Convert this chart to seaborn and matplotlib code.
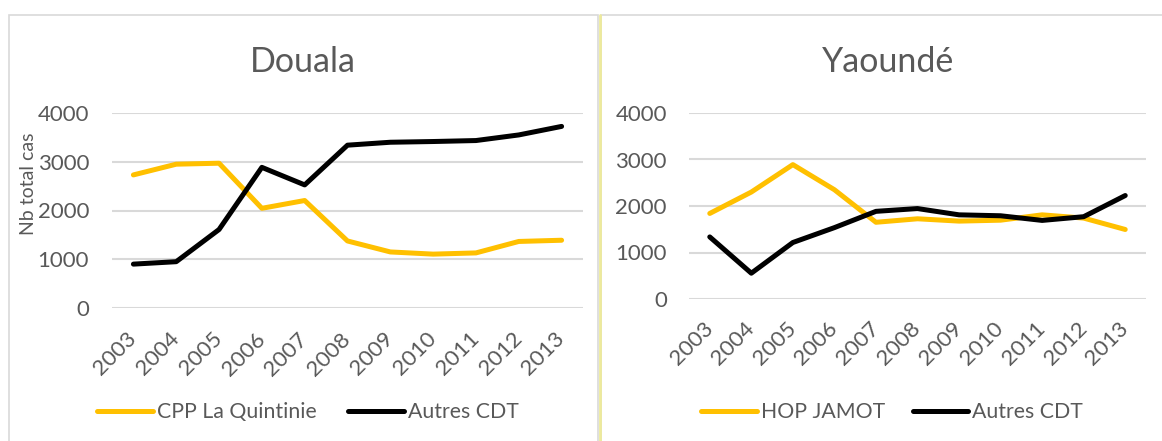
import numpy as np
import pandas as pd
import seaborn as sns
import matplotlib.pyplot as plt
from matplotlib.patches import Rectangle
from matplotlib.lines import Line2D

years = [2003, 2004, 2005, 2006, 2007, 2008, 2009, 2010, 2011, 2012, 2013]
year_labels = [str(y) for y in years]

# Douala
douala_cpp = [2730, 2950, 2970, 2045, 2205, 1375, 1150, 1105, 1130, 1365, 1390]
douala_autres = [900, 950, 1610, 2885, 2525, 3340, 3400, 3415, 3435, 3550, 3725]
# Yaounde
yaounde_jamot = [1840, 2300, 2890, 2350, 1650, 1725, 1675, 1695, 1810, 1740, 1495]
yaounde_autres = [1335, 555, 1215, 1535, 1885, 1945, 1810, 1790, 1690, 1770, 2225]

yellow = '#FFC000'
black = '#000000'
grey_text = '#595959'
grid_col = '#D9D9D9'

sns.set_style("white")
plt.rcParams['font.family'] = ['Lato', 'DejaVu Sans']

W, H = 1162, 441
fig = plt.figure(figsize=(W / 100, H / 100), dpi=100)

# panel borders (like the Excel chart areas)
fig.patches.append(Rectangle((9 / W, -0.1), 589 / W, 1 - 15 / H + 0.1,
                             transform=fig.transFigure, fill=False,
                             edgecolor=grid_col, lw=1.2))
fig.patches.append(Rectangle((601 / W, -0.1), 600 / W, 1 - 15 / H + 0.1,
                             transform=fig.transFigure, fill=False,
                             edgecolor=grid_col, lw=1.2))
fig.lines.append(Line2D([600 / W, 600 / W], [0, 1 - 15 / H],
                        transform=fig.transFigure, color='#EDEA9C', lw=2))


def panel(rect, title, title_x, name1, vals1, vals2, ypad, xpad, leg_x, colsp,
          ylabel=None):
    ax = fig.add_axes(rect)
    df = pd.DataFrame({
        'year': year_labels * 2,
        'val': vals1 + vals2,
        'serie': [name1] * len(years) + ['Autres CDT'] * len(years),
    })
    sns.lineplot(data=df, x='year', y='val', hue='serie', sort=False,
                 palette={name1: yellow, 'Autres CDT': black},
                 linewidth=3.6, ax=ax, legend=False)
    ax.set_xlim(-0.5, len(years) - 0.5)
    ax.set_ylim(0, 4000)
    ax.set_yticks([0, 1000, 2000, 3000, 4000])
    ax.yaxis.grid(True, color=grid_col, lw=1.5)
    ax.set_axisbelow(True)
    for s in ax.spines.values():
        s.set_visible(False)
    ax.tick_params(axis='y', labelsize=16, colors=grey_text, length=0, pad=ypad)
    ax.tick_params(axis='x', labelsize=16, colors=grey_text, length=0, pad=xpad)
    for lab in ax.get_xticklabels():
        lab.set_rotation(45)
        lab.set_ha('right')
        lab.set_va('center')
        lab.set_rotation_mode('anchor')
    ax.set_xlabel('')
    ax.set_ylabel(ylabel if ylabel else '', fontsize=14, color=grey_text)
    if ylabel:
        ax.yaxis.set_label_coords(-0.159, 0.636)
    fig.text(title_x / W, 1 - 61.5 / H, title, fontsize=24.5, color=grey_text,
             ha='center', va='center')
    handles = [Line2D([], [], color=yellow, lw=3.6), Line2D([], [], color=black, lw=3.6)]
    fig.legend(handles, [name1, 'Autres CDT'], loc='center', ncol=2, frameon=False,
               bbox_to_anchor=(leg_x / W, 1 - 412 / H), fontsize=15.3,
               labelcolor=grey_text, handlelength=2.6, handletextpad=0.2,
               columnspacing=colsp)
    return ax


panel([112 / W, 1 - 308 / H, 471 / W, 195 / H], 'Douala', 303,
      'CPP La Quintinie', douala_cpp, douala_autres, ypad=16.5, xpad=20,
      leg_x=308, colsp=1.5, ylabel='Nb total cas')
panel([689 / W, 1 - 299 / H, 457 / W, 186 / H], 'Yaoundé', 888,
      'HOP JAMOT', yaounde_jamot, yaounde_autres, ypad=16, xpad=19,
      leg_x=892, colsp=1.3)

plt.savefig('out.png', dpi=100)
